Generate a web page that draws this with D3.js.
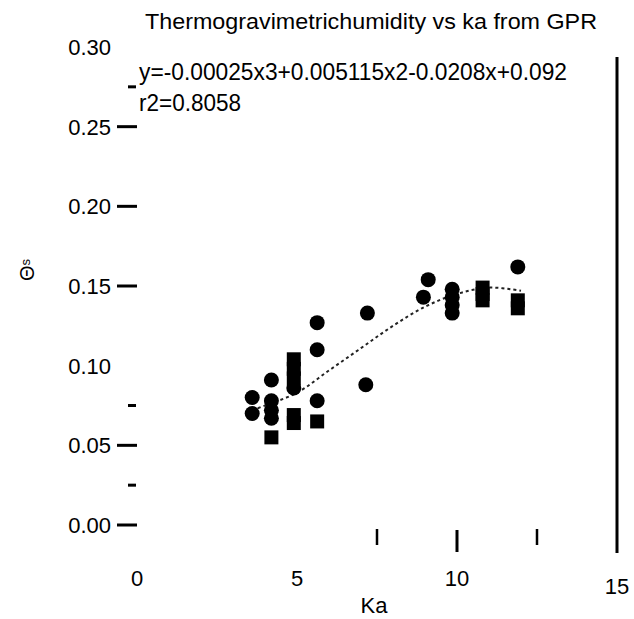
<!DOCTYPE html>
<html>
<head>
<meta charset="utf-8">
<script src="https://cdn.jsdelivr.net/npm/d3@7"></script>
<style>
  body { margin: 0; background: #fff; }
  svg { display: block; font-family: "Liberation Sans", Arial, sans-serif; }
</style>
</head>
<body>
<div id="chart"></div>
<script>
// values
const circlePoints = [
    [3.6, 0.080], [3.6, 0.070],
    [4.2, 0.091], [4.2, 0.078], [4.2, 0.072], [4.2, 0.067],
    [4.9, 0.086],
    [5.63, 0.127], [5.63, 0.110], [5.63, 0.078],
    [7.2, 0.133], [7.15, 0.088],
    [9.1, 0.154], [8.95, 0.143],
    [9.85, 0.148], [9.85, 0.143], [9.85, 0.138], [9.85, 0.133],
    [11.9, 0.162]
];
const squarePoints = [
    [4.2, 0.055],
    [4.9, 0.104], [4.9, 0.098], [4.9, 0.092],
    [4.9, 0.069], [4.9, 0.064],
    [5.63, 0.065],
    [10.8, 0.149], [10.8, 0.145], [10.8, 0.141],
    [11.9, 0.141], [11.9, 0.136]
];
// fitted curve as drawn on the figure
const trendPoints = [
    [3.6, 0.072], [4, 0.075], [5, 0.083], [6, 0.097], [7, 0.111],
    [8, 0.125], [9, 0.137], [10, 0.145], [11, 0.149], [12, 0.147]
];
const yMajorTicks = [0.00, 0.05, 0.15, 0.20, 0.25];
const yMinorTicks = [0.025, 0.075, 0.275];
const yLabels = [0.00, 0.05, 0.10, 0.15, 0.20, 0.25, 0.30];
const xTicks = [7.5, 10, 12.5];
const xLabels = [0, 5, 10, 15];

const titleText = "Thermogravimetrichumidity vs ka from GPR";
const equationText = "y=-0.00025x3+0.005115x2-0.0208x+0.092";
const r2Text = "r2=0.8058";

const width = 634;
const height = 619;

const svg = d3.select("#chart")
    .append("svg")
    .attr("width", width)
    .attr("height", height);

// scales
const x = d3.scaleLinear().domain([0, 15]).range([137, 617]);
const y = d3.scaleLinear().domain([0, 0.30]).range([525, 47]);

// title + fit text (scanned text is narrow, so squeeze it)
svg.append("text")
    .attr("x", 145).attr("y", 29)
    .attr("textLength", 452).attr("lengthAdjust", "spacingAndGlyphs")
    .style("font-size", "22px")
    .text(titleText);

svg.append("text")
    .attr("x", 139).attr("y", 80)
    .attr("textLength", 428).attr("lengthAdjust", "spacingAndGlyphs")
    .style("font-size", "23px")
    .text(equationText);

svg.append("text")
    .attr("x", 139).attr("y", 111)
    .attr("textLength", 102).attr("lengthAdjust", "spacingAndGlyphs")
    .style("font-size", "23px")
    .text(r2Text);

// y ticks (dashes only, no axis line)
svg.selectAll(".ymajor")
    .data(yMajorTicks)
    .join("line")
    .attr("x1", x(0) - 20).attr("x2", x(0))
    .attr("y1", d => y(d)).attr("y2", d => y(d))
    .attr("stroke", "#000").attr("stroke-width", 3);

svg.selectAll(".yminor")
    .data(yMinorTicks)
    .join("line")
    .attr("x1", x(0) - 9).attr("x2", x(0) - 1)
    .attr("y1", d => y(d)).attr("y2", d => y(d))
    .attr("stroke", "#000").attr("stroke-width", 3);

svg.selectAll(".ylabel")
    .data(yLabels)
    .join("text")
    .attr("x", 111)
    .attr("y", d => y(d))
    .attr("dy", "0.36em")
    .attr("text-anchor", "end")
    .style("font-size", "22px")
    .text(d => d3.format(".2f")(d));

// x ticks
svg.selectAll(".xtick")
    .data(xTicks)
    .join("line")
    .attr("x1", d => x(d)).attr("x2", d => x(d))
    .attr("y1", d => d == 10 ? 530 : 529)
    .attr("y2", d => d == 10 ? 552 : 545)
    .attr("stroke", "#000").attr("stroke-width", d => d == 10 ? 3 : 2.5);

// right frame line
svg.append("line")
    .attr("x1", x(15)).attr("x2", x(15))
    .attr("y1", 57).attr("y2", 553)
    .attr("stroke", "#000").attr("stroke-width", 3);

svg.selectAll(".xlabel")
    .data(xLabels)
    .join("text")
    .attr("x", d => x(d))
    .attr("y", d => d == 15 ? 594 : 586)
    .attr("text-anchor", "middle")
    .style("font-size", "22px")
    .text(d => d);

svg.append("text")
    .attr("x", 374).attr("y", 613)
    .attr("text-anchor", "middle")
    .style("font-size", "22px")
    .text("Ka");

// y axis title
svg.append("text")
    .attr("transform", "translate(34, 270) rotate(-90)")
    .attr("text-anchor", "middle")
    .style("font-size", "20px")
    .text("Θ")
    .append("tspan")
    .attr("dy", "-0.3em")
    .style("font-size", "13px")
    .text("s");

// trend line
const line = d3.line()
    .x(d => x(d[0]))
    .y(d => y(d[1]))
    .curve(d3.curveCatmullRom);

svg.append("path")
    .datum(trendPoints)
    .attr("d", line)
    .attr("fill", "none")
    .attr("stroke", "#222")
    .attr("stroke-width", 2)
    .attr("stroke-dasharray", "3,3");

// data marks
svg.selectAll(".dot")
    .data(circlePoints)
    .join("circle")
    .attr("cx", d => x(d[0]))
    .attr("cy", d => y(d[1]))
    .attr("r", 7.5)
    .attr("fill", "#000");

svg.selectAll(".sq")
    .data(squarePoints)
    .join("rect")
    .attr("x", d => x(d[0]) - 7)
    .attr("y", d => y(d[1]) - 7)
    .attr("width", 14)
    .attr("height", 14)
    .attr("fill", "#000");
</script>
</body>
</html>
